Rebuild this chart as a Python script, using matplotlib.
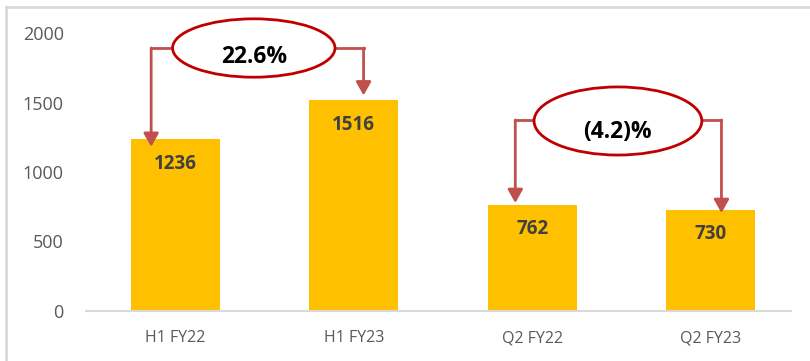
import matplotlib.pyplot as plt
from matplotlib.patches import Ellipse
from matplotlib.lines import Line2D

categories = ["H1 FY22", "H1 FY23", "Q2 FY22", "Q2 FY23"]
values = [1236, 1516, 762, 730]
growth_labels = ["22.6%", "(4.2)%"]
y_ticks = [0, 500, 1000, 1500, 2000]

BAR_COLOR = "#FFC000"
ARROW_COLOR = "#C0504D"
RING_COLOR = "#C00000"
TEXT_DARK = "#404040"
TICK_GRAY = "#595959"

plt.rcParams["font.family"] = ["Open Sans", "DejaVu Sans"]

fig = plt.figure(figsize=(8.1, 3.61), dpi=100)
ax = fig.add_axes([86 / 810, 50 / 361, 714 / 810, 278 / 361])

x = list(range(len(categories)))
bars = ax.bar(x, values, width=0.5, color=BAR_COLOR, zorder=2)

ax.set_xlim(-0.5, 3.5)
ax.set_ylim(0, 2000)
ax.set_yticks(y_ticks)
ax.set_yticklabels([str(t) for t in y_ticks], color=TICK_GRAY, fontsize=13)
ax.set_xticks(x)
ax.set_xticklabels(categories, color=TICK_GRAY, fontsize=11.5)
ax.tick_params(axis="both", length=0)
ax.tick_params(axis="x", pad=14)
ax.tick_params(axis="y", pad=16)
for side in ("top", "right", "left"):
    ax.spines[side].set_visible(False)
ax.spines["bottom"].set_color("#D9D9D9")
ax.spines["bottom"].set_linewidth(1.5)
ax.spines["bottom"].set_bounds(-0.5, 3.45)

# value labels inside the top of each bar
for xi, v in zip(x, values):
    ax.annotate(str(v), (xi, v), xytext=(0, -17.5), textcoords="offset points",
                ha="center", va="center", fontsize=13.5, fontweight="bold",
                color=TEXT_DARK, zorder=4)

# growth callouts: (pair of bar indices, label, ring centre, ring size, connector level,
#                   connector x offsets, arrow tip gap from the bar top)
callouts = [
    ((0, 1), growth_labels[0], (0.44, 1892), (0.91, 420), 1892, (-0.135, 0.055), (-55, 35)),
    ((2, 3), growth_labels[1], (2.48, 1367), (0.94, 490), 1374, (-0.095, 0.06), (15, -25)),
]

for (i, j), label, centre, size, level, (dx_l, dx_r), (gap_l, gap_r) in callouts:
    cx, cy = centre
    w, h = size
    left_x = i + dx_l
    right_x = j + dx_r
    ring_left = cx - w / 2
    ring_right = cx + w / 2
    # horizontal leaders out of the ring
    ax.add_line(Line2D([left_x, ring_left], [level, level], color=ARROW_COLOR, lw=2, zorder=3))
    ax.add_line(Line2D([ring_right, right_x], [level, level], color=ARROW_COLOR, lw=2, zorder=3))
    # downward arrows to the bars
    for ax_x, v, gap in ((left_x, values[i], gap_l), (right_x, values[j], gap_r)):
        ax.annotate("", xy=(ax_x, v + gap), xytext=(ax_x, level),
                    arrowprops=dict(arrowstyle="-|>,head_length=0.8,head_width=0.45",
                                    color=ARROW_COLOR, lw=2, shrinkA=0, shrinkB=0),
                    zorder=3)
    ring = Ellipse((cx, cy), w, h, facecolor="white", edgecolor=RING_COLOR, lw=2,
                   zorder=4, clip_on=False)
    ax.add_patch(ring)
    ax.text(cx, cy - h * 0.16, label, ha="center", va="center", fontsize=16.5,
            fontweight="bold", color="black", zorder=5)

# outer frame edges
fig.add_artist(Line2D([6 / 810, 1.0], [1 - 6.5 / 361, 1 - 6.5 / 361],
                      transform=fig.transFigure, color="#D9D9D9", lw=2))
fig.add_artist(Line2D([6 / 810, 6 / 810], [0, 1 - 6.5 / 361],
                      transform=fig.transFigure, color="#D9D9D9", lw=2))

fig.savefig("out.png", dpi=100)
